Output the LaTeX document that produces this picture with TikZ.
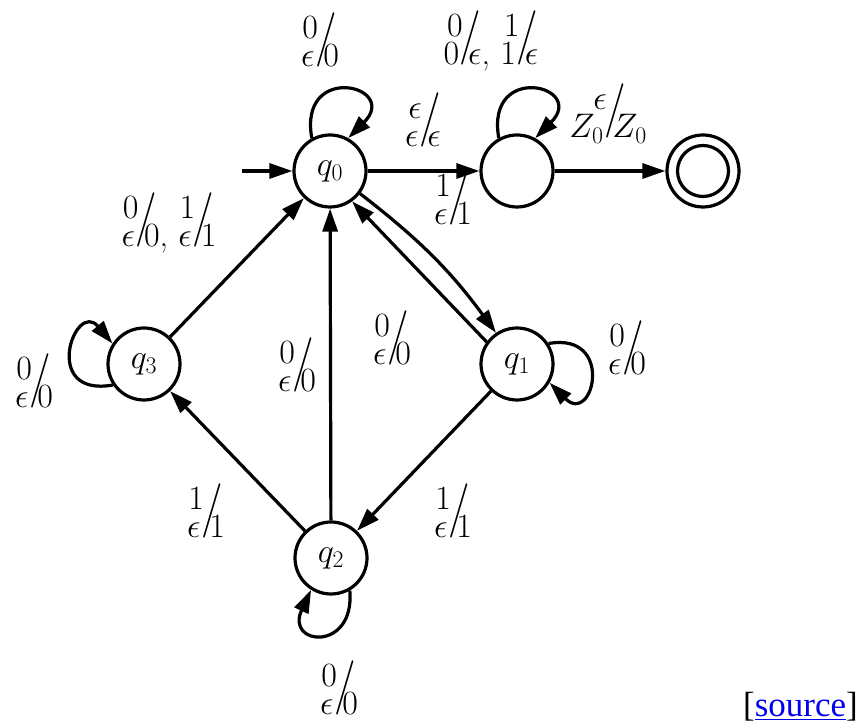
\RequirePackage{fix-cm}
\documentclass[tikz,border=0pt]{standalone}
\usepackage{fontspec}
\usepackage{graphicx}
\usetikzlibrary{arrows.meta}
\newfontfamily\srcfont{Liberation Serif}
\definecolor{linkblue}{RGB}{0,0,238}
\newcommand\pdalab[3]{\mbox{%
  \vbox{\baselineskip=0.83em\lineskiplimit=-\maxdimen\lineskip=0pt
        \halign{\hfil##\cr$#1$\cr$#2$\kern0.1em\cr}}%
  \kern-0.08em\raisebox{0.4em}{\scalebox{1.38}[1.6]{/}}\kern-0.39em$#3$}}
\begin{document}
\begin{tikzpicture}[x=1pt,y=1pt,
  state/.style={circle,draw,line width=3.2pt,minimum size=72pt,inner sep=0pt,font=\fontsize{34}{40}\selectfont},
  lab/.style={anchor=base,inner sep=0pt,font=\fontsize{34}{40}\selectfont},
  edge/.style={line width=3.2pt,-{Triangle[length=23pt,width=15pt]}},
]
\useasboundingbox (0,0) rectangle (862,727);
\node[state] (q0) at (330,556) {$q_0$};
\node[state] (s) at (517,556) {};
\node[state] (f) at (703,556) {};
\draw[line width=3.2pt] (f.center) circle[radius=25.5pt];
\node[state] (q3) at (144,363) {$q_3$};
\node[state] (q1) at (517,363) {$q_1$};
\node[state] (q2) at (331,169) {$q_2$};
\coordinate (init) at (242,556);

\draw[edge] (init) -- (q0);
\draw[edge] (q0) -- (s);
\draw[edge] (s) -- (f);
\draw[edge] (q3) -- (q0);
\draw[edge] (q2) -- (q0);
\draw[edge] (q2) -- (q3);
\draw[edge] (q1) -- (q2);
\draw[edge] (q0.-37) to[bend left=8] (q1.124);
\draw[edge] (q1.144) -- (q0.306);

\draw[edge] (q0.119) .. controls +(100:78pt) and +(45:74pt) .. (q0.61);
\draw[edge] (s.119) .. controls +(100:78pt) and +(45:74pt) .. (s.61);
\draw[edge] (q3.214) .. controls +(190:74pt) and +(130:58pt) .. (q3.147);
\draw[edge] (q1.33) .. controls +(10:68pt) and +(-45:62pt) .. (q1.-30);
\draw[edge] (q2.-60) .. controls +(-85:62pt) and +(-115:62pt) .. (q2.-122);

\node[lab] (l0) at (320,660) {\pdalab{0}{\epsilon}{0}};
\node[lab] (ls) at (491,662) {\pdalab{0}{0}{\epsilon}, \pdalab{1}{1}{\epsilon}};
\node[lab] (l0s) at (423,580) {\pdalab{\epsilon}{\epsilon}{\epsilon}};
\node[lab] (l01) at (453,502) {\pdalab{1}{\epsilon}{1}};
\node[lab] (lsf) at (608,589) {\pdalab{\epsilon}{Z_0}{Z_0}};
\node[lab] (l30) at (169,480) {\pdalab{0}{\epsilon}{0}, \pdalab{1}{\epsilon}{1}};
\node[lab] (l33) at (34,319) {\pdalab{0}{\epsilon}{0}};
\node[lab] (l20) at (297,335) {\pdalab{0}{\epsilon}{0}};
\node[lab] (l10) at (392,362) {\pdalab{0}{\epsilon}{0}};
\node[lab] (l11) at (627,352) {\pdalab{0}{\epsilon}{0}};
\node[lab] (l23) at (206,189) {\pdalab{1}{\epsilon}{1}};
\node[lab] (l12) at (453,189) {\pdalab{1}{\epsilon}{1}};
\node[lab] (l22) at (339,12) {\pdalab{0}{\epsilon}{0}};
\node[anchor=base east,inner sep=0pt,font=\srcfont\fontsize{35}{40}\selectfont] (src) at (858,10) {[\textcolor{linkblue}{\underline{source}}]};
\end{tikzpicture}
\end{document}
